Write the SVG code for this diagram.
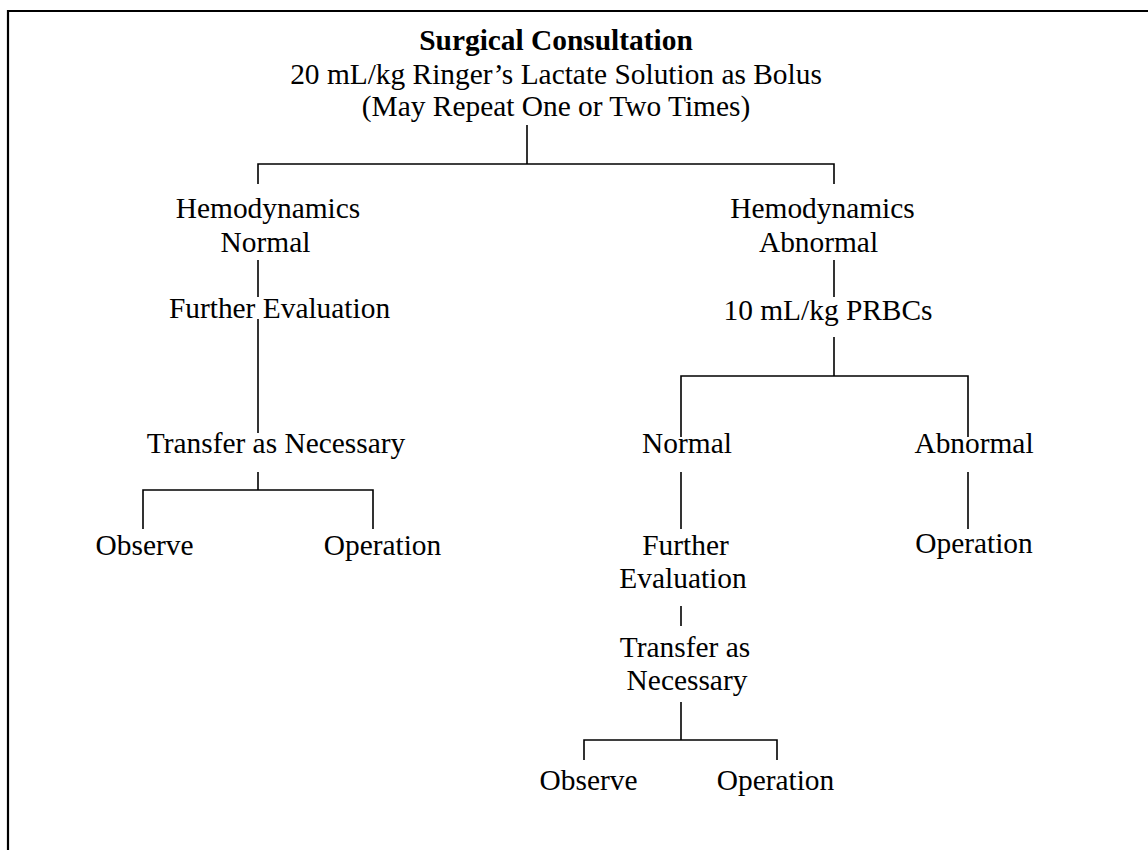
<svg xmlns="http://www.w3.org/2000/svg" width="1148" height="850" viewBox="0 0 1148 850">
<style>
text{font-family:"Liberation Serif","Times New Roman",serif;font-size:29.4px;fill:#000;text-anchor:middle}
.b{font-weight:bold}
.c line,.c path{stroke:#000;stroke-width:1.6;fill:none}
.frame{stroke:#000;stroke-width:2.2;fill:none}
</style>
<rect width="1148" height="850" fill="#fff"/>
<path class="frame" d="M8,852 V11 H1150"/>
<g id="root">
<text class="b" x="556" y="50">Surgical Consultation</text>
<text x="556" y="84">20 mL/kg Ringer’s Lactate Solution as Bolus</text>
<text x="556" y="116">(May Repeat One or Two Times)</text>
</g>
<g id="hemo-normal">
<text x="268" y="218">Hemodynamics</text>
<text x="265.5" y="252">Normal</text>
</g>
<g id="further-eval-left"><text x="279.5" y="318">Further Evaluation</text></g>
<g id="transfer-left"><text x="276" y="453">Transfer as Necessary</text></g>
<g id="observe-left"><text x="144.5" y="555">Observe</text></g>
<g id="operation-left"><text x="382.5" y="555">Operation</text></g>
<g id="hemo-abnormal">
<text x="822.5" y="218">Hemodynamics</text>
<text x="818.5" y="252">Abnormal</text>
</g>
<g id="prbc"><text x="828" y="320">10 mL/kg PRBCs</text></g>
<g id="normal-right"><text x="687" y="453">Normal</text></g>
<g id="abnormal-right"><text x="974" y="453">Abnormal</text></g>
<g id="operation-right"><text x="974" y="553">Operation</text></g>
<g id="further-eval-right">
<text x="685.5" y="555">Further</text>
<text x="683" y="588">Evaluation</text>
</g>
<g id="transfer-right">
<text x="685" y="657">Transfer as</text>
<text x="687" y="690">Necessary</text>
</g>
<g id="observe-right"><text x="588.5" y="790">Observe</text></g>
<g id="operation-bottom"><text x="775.5" y="790">Operation</text></g>
<g id="connectors" class="c">
<line x1="527" y1="125" x2="527" y2="164"/>
<path d="M258,184 V164 H834 V184"/>
<line x1="258" y1="260" x2="258" y2="297"/>
<line x1="258" y1="319" x2="258" y2="433"/>
<line x1="258" y1="472" x2="258" y2="490"/>
<path d="M143,529 V490 H373 V529"/>
<line x1="834" y1="260" x2="834" y2="297"/>
<line x1="834" y1="337" x2="834" y2="376"/>
<path d="M681,437 V376 H968 V437"/>
<line x1="681" y1="472" x2="681" y2="529"/>
<line x1="968" y1="472" x2="968" y2="529"/>
<line x1="681" y1="606" x2="681" y2="626"/>
<line x1="681" y1="702" x2="681" y2="740"/>
<path d="M584,760 V740 H777 V760"/>
</g>
</svg>
